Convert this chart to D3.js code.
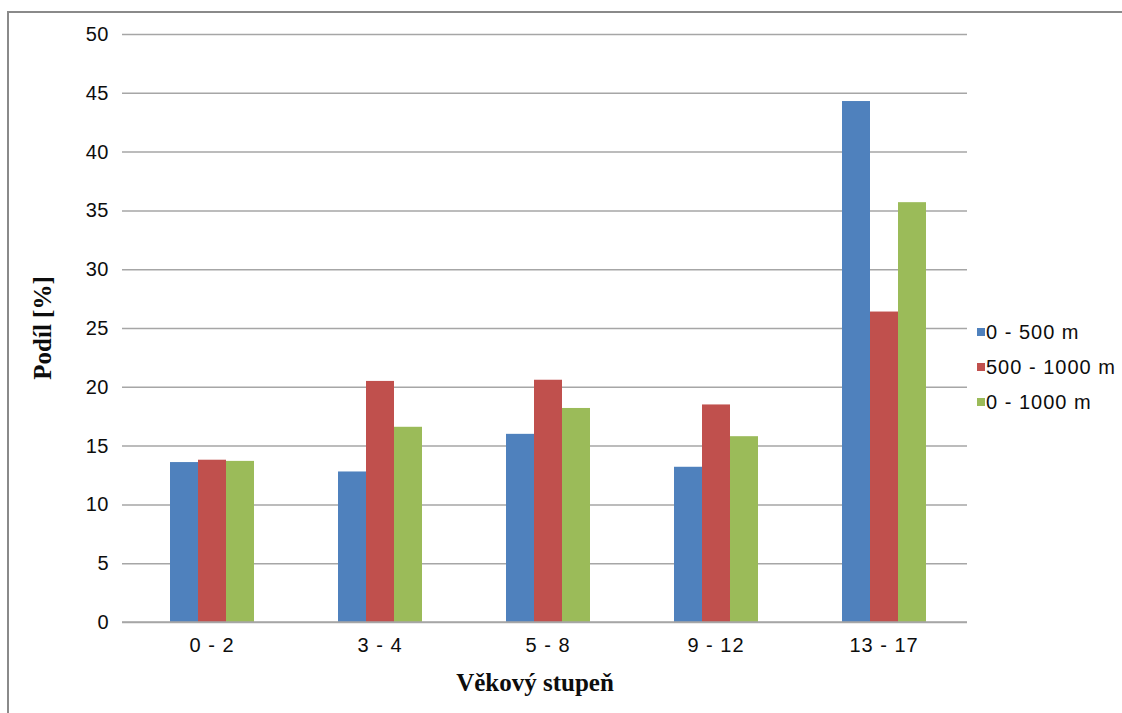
<!DOCTYPE html>
<html>
<head>
<meta charset="utf-8">
<script src="https://cdn.jsdelivr.net/npm/d3@7/dist/d3.min.js"></script>
<style>
  html, body { margin: 0; padding: 0; background: #ffffff; }
  svg { display: block; }
</style>
</head>
<body>
<svg id="chart" width="1122" height="713"></svg>
<script>
// Age groups on the x axis
const categories = ["0 - 2", "3 - 4", "5 - 8", "9 - 12", "13 - 17"];
// Distance bands (series)
const seriesNames = ["0 - 500 m", "500 - 1000 m", "0 - 1000 m"];
// Share in percent per age group
const values0to500 = [13.6, 12.8, 16.0, 13.2, 44.3];
const values500to1000 = [13.8, 20.5, 20.6, 18.5, 26.4];
const values0to1000 = [13.7, 16.6, 18.2, 15.8, 35.7];
const yTicks = [0, 5, 10, 15, 20, 25, 30, 35, 40, 45, 50];
const seriesColors = ["#4F81BD", "#C0504D", "#9BBB59"];

const seriesValues = [values0to500, values500to1000, values0to1000];

const svg = d3.select("#chart");
const plot = { left: 128, right: 968, top: 34, bottom: 622 };

// Outer frame of the chart
svg.append("rect")
  .attr("x", 8).attr("y", 12)
  .attr("width", 1140).attr("height", 720)
  .attr("fill", "none")
  .attr("stroke", "#8a8a8a")
  .attr("stroke-width", 2);

const x0 = d3.scaleBand()
  .domain(categories)
  .range([plot.left, plot.right])
  .paddingInner(0.5)
  .paddingOuter(0.25);

const x1 = d3.scaleBand()
  .domain(seriesNames)
  .range([0, x0.bandwidth()]);

const y = d3.scaleLinear().domain([0, 50]).range([plot.bottom, plot.top]);

const sansFont = "'Liberation Sans', Arial, sans-serif";
const serifFont = "'Liberation Serif', 'Times New Roman', serif";
const textColor = "#0d0d0d";

// Value axis with gridlines
const yAxis = svg.append("g")
  .attr("transform", `translate(${plot.left},0)`)
  .call(d3.axisLeft(y).tickValues(yTicks).tickSize(0).tickFormat(d3.format("d")));
yAxis.select(".domain").remove();
yAxis.selectAll(".tick line")
  .attr("x1", -6)
  .attr("x2", plot.right - plot.left - 1)
  .attr("stroke", "#a6a6a6")
  .attr("stroke-width", 1.5);
yAxis.selectAll(".tick text")
  .attr("x", -19)
  .attr("fill", textColor)
  .style("font-family", sansFont)
  .style("font-size", "20px")
  .style("letter-spacing", "0.5px");

// Bars
const groups = svg.append("g").selectAll("g")
  .data(categories)
  .join("g")
  .attr("transform", d => `translate(${x0(d)},0)`);

groups.selectAll("rect")
  .data((c, i) => seriesNames.map((s, k) => ({ s, k, v: seriesValues[k][i] })))
  .join("rect")
  .attr("x", d => x1(d.s))
  .attr("y", d => y(d.v))
  .attr("width", x1.bandwidth())
  .attr("height", d => y(0) - y(d.v))
  .attr("fill", d => seriesColors[d.k]);

// Category axis
const xAxis = svg.append("g")
  .attr("transform", `translate(0,${plot.bottom})`)
  .call(d3.axisBottom(x0).tickSize(0).tickPadding(16));
xAxis.select(".domain").remove();
xAxis.selectAll(".tick text")
  .attr("fill", textColor)
  .style("font-family", sansFont)
  .style("font-size", "20px")
  .style("letter-spacing", "1px");

// Baseline at zero
svg.append("line")
  .attr("x1", plot.left - 6).attr("x2", plot.right - 1)
  .attr("y1", y(0)).attr("y2", y(0))
  .attr("stroke", "#a6a6a6").attr("stroke-width", 1.5);

// Axis titles
svg.append("text")
  .attr("transform", `translate(51,${(plot.top + plot.bottom) / 2}) rotate(-90)`)
  .attr("text-anchor", "middle")
  .style("font-family", serifFont)
  .style("font-weight", "bold")
  .style("font-size", "25px")
  .attr("fill", textColor)
  .text("Podíl [%]");

svg.append("text")
  .attr("x", (plot.left + plot.right) / 2 - 13)
  .attr("y", 691)
  .attr("text-anchor", "middle")
  .style("font-family", serifFont)
  .style("font-weight", "bold")
  .style("font-size", "25px")
  .attr("fill", textColor)
  .text("Věkový stupeň");

// Legend
const legend = svg.append("g").attr("transform", "translate(977,332)");
const items = legend.selectAll("g")
  .data(seriesNames)
  .join("g")
  .attr("transform", (d, i) => `translate(0,${i * 35})`);
items.append("rect")
  .attr("x", 0).attr("y", -4)
  .attr("width", 8).attr("height", 8)
  .attr("fill", (d, i) => seriesColors[i]);
items.append("text")
  .attr("x", 9)
  .attr("y", 0)
  .attr("dy", "0.35em")
  .attr("fill", textColor)
  .style("font-family", sansFont)
  .style("font-size", "20px")
  .style("letter-spacing", "1px")
  .text(d => d);
</script>
</body>
</html>
